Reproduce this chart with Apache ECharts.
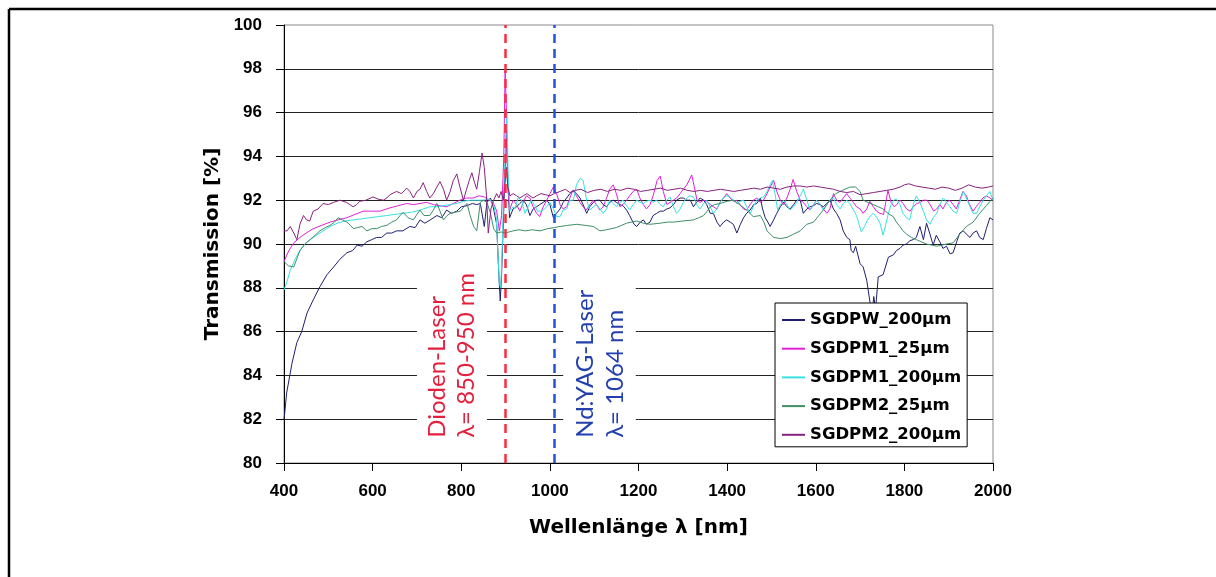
<!DOCTYPE html>
<html>
<head>
<meta charset="utf-8">
<style>
  html, body { margin: 0; padding: 0; background: #fff; }
  #chart { width: 1216px; height: 577px; }
</style>
<script src="https://cdn.jsdelivr.net/npm/echarts@6/dist/echarts.min.js"></script>
</head>
<body>
<div id="chart"></div>
<script>
// Transmission spectra of the glass samples, [wavelength nm, transmission %]
const seriesNames = ['SGDPW_200µm', 'SGDPM1_25µm', 'SGDPM1_200µm', 'SGDPM2_25µm', 'SGDPM2_200µm'];
const seriesColors = ['#1f1f70', '#e020d8', '#38e2e2', '#3f8f68', '#86237f'];

const sgdpw200 = [[400,81.95],[406,83.2],[418,84.55],[429,85.5],[440,86.0],[452,86.85],[466,87.45],[481,88.05],[497,88.6],[512,88.95],[526,89.3],[542,89.6],[555,89.7],[565,89.95],[576,89.9],[587,90.1],[598,90.2],[609,90.3],[620,90.3],[632,90.5],[643,90.5],[654,90.6],[668,90.6],[684,90.8],[696,90.75],[707,91.1],[718,90.95],[730,91.1],[745,91.3],[756,91.2],[767,91.55],[778,91.4],[790,91.5],[800,91.7],[813,91.75],[825,91.85],[835,91.8],[843,91.85],[852,90.8],[858,91.9],[866,92.1],[872,91.7],[880,90.9],[885,88.5],[888,87.4],[891,88.6],[895,91.0],[899,93.5],[902,95.2],[905,93.0],[909,91.2],[917,91.6],[925,91.7],[932,91.85],[940,92.0],[947,91.8],[955,91.3],[962,91.6],[970,91.7],[977,91.8],[985,91.9],[993,92.0],[1000,91.8],[1008,91.2],[1015,91.4],[1023,91.6],[1030,91.9],[1038,92.1],[1045,92.3],[1053,92.45],[1060,92.3],[1068,92.1],[1075,91.8],[1083,91.4],[1090,91.7],[1098,91.9],[1105,92.0],[1113,92.0],[1120,91.8],[1128,91.7],[1135,91.9],[1143,92.0],[1150,91.9],[1158,91.8],[1165,91.75],[1173,91.55],[1180,91.3],[1185,91.1],[1190,90.9],[1196,90.8],[1204,91.0],[1211,91.1],[1218,90.9],[1226,91.0],[1233,91.3],[1241,91.4],[1249,91.5],[1256,91.5],[1264,91.6],[1271,91.65],[1279,91.8],[1286,92.0],[1294,92.1],[1301,92.1],[1309,92.0],[1317,92.0],[1324,91.7],[1331,91.9],[1339,92.1],[1347,92.0],[1354,91.8],[1362,91.4],[1369,91.4],[1377,91.0],[1384,90.8],[1392,91.0],[1399,91.1],[1407,91.0],[1414,90.9],[1422,90.5],[1430,90.9],[1437,91.2],[1444,91.4],[1452,91.55],[1460,91.8],[1467,91.85],[1475,92.1],[1480,91.6],[1486,91.2],[1492,91.0],[1497,90.8],[1505,91.1],[1512,91.4],[1520,91.7],[1527,91.9],[1535,91.7],[1542,91.6],[1550,91.8],[1557,92.0],[1565,92.0],[1572,91.4],[1580,91.6],[1587,91.7],[1595,91.75],[1602,91.85],[1610,91.8],[1617,91.7],[1625,91.85],[1632,92.0],[1640,91.6],[1647,91.4],[1655,91.1],[1662,90.6],[1670,90.3],[1677,90.2],[1680,89.7],[1685,89.6],[1690,89.9],[1695,89.5],[1700,89.1],[1707,88.95],[1715,88.35],[1722,87.4],[1727,86.8],[1731,87.6],[1735,87.0],[1741,88.5],[1752,88.6],[1764,89.4],[1775,89.5],[1782,89.7],[1790,89.8],[1797,89.95],[1805,90.0],[1812,90.15],[1820,90.2],[1827,90.3],[1835,90.8],[1843,90.2],[1850,90.95],[1857,90.5],[1865,89.95],[1872,90.4],[1880,90.1],[1887,89.8],[1895,89.9],[1903,89.55],[1910,89.6],[1918,90.1],[1925,90.5],[1933,90.6],[1940,90.45],[1948,90.3],[1955,90.5],[1963,90.6],[1970,90.3],[1978,90.2],[1985,90.7],[1993,91.2],[2000,91.1]];

const sgdpm1_25 = [[400,89.2],[411,89.7],[422,90.05],[436,90.3],[450,90.5],[466,90.7],[485,90.85],[504,91.0],[522,91.1],[542,91.2],[560,91.35],[579,91.5],[598,91.5],[617,91.5],[639,91.65],[658,91.75],[677,91.85],[692,91.8],[707,91.85],[722,91.9],[737,91.8],[752,91.75],[767,91.7],[782,91.85],[797,92.0],[812,92.1],[827,92.1],[840,92.2],[852,92.15],[862,92.0],[872,91.9],[880,91.5],[886,90.6],[891,91.3],[896,94.0],[899,97.9],[902,96.0],[905,92.5],[910,91.6],[917,92.0],[925,91.8],[932,91.5],[940,91.9],[947,92.2],[955,92.1],[962,91.7],[970,91.4],[977,91.25],[985,91.7],[993,92.0],[1000,92.3],[1008,92.6],[1015,92.3],[1023,91.8],[1030,91.6],[1038,91.7],[1045,92.1],[1052,92.45],[1060,92.2],[1068,91.9],[1075,91.7],[1082,91.55],[1090,91.8],[1098,92.0],[1105,91.8],[1113,91.55],[1120,91.7],[1128,92.1],[1135,92.5],[1143,92.7],[1150,92.3],[1158,91.7],[1165,91.8],[1173,92.0],[1180,92.2],[1188,92.4],[1196,92.5],[1203,92.1],[1211,91.8],[1218,91.6],[1226,91.8],[1233,92.2],[1242,92.9],[1249,93.1],[1256,92.4],[1264,91.8],[1271,91.9],[1279,92.0],[1286,92.1],[1294,92.3],[1301,92.5],[1309,92.7],[1314,92.9],[1320,93.15],[1326,92.6],[1332,92.0],[1339,91.9],[1347,92.0],[1354,91.95],[1362,91.8],[1369,91.7],[1377,91.6],[1384,91.9],[1392,92.1],[1399,92.3],[1407,92.1],[1414,91.95],[1422,92.0],[1429,91.8],[1437,91.6],[1444,91.55],[1452,91.8],[1459,92.0],[1467,92.1],[1475,91.9],[1482,92.0],[1490,92.3],[1497,92.6],[1505,92.9],[1512,92.4],[1520,92.0],[1527,91.8],[1535,92.1],[1542,92.5],[1549,92.95],[1557,92.4],[1565,92.0],[1572,91.9],[1580,91.7],[1587,91.55],[1595,91.8],[1602,92.0],[1610,91.8],[1617,91.6],[1625,91.4],[1632,91.6],[1640,92.3],[1647,92.0],[1655,91.9],[1662,92.1],[1670,92.3],[1677,92.1],[1685,91.9],[1692,91.7],[1700,91.6],[1707,91.4],[1715,91.6],[1722,91.95],[1730,91.7],[1737,91.5],[1745,91.4],[1753,91.35],[1758,91.9],[1763,92.45],[1770,91.9],[1777,91.7],[1783,91.8],[1790,92.0],[1797,91.85],[1805,91.6],[1813,91.5],[1820,91.7],[1828,91.85],[1836,91.9],[1843,92.0],[1851,92.0],[1858,91.8],[1866,91.5],[1873,91.6],[1880,91.8],[1887,91.6],[1895,91.9],[1902,92.0],[1910,91.8],[1917,91.6],[1925,92.0],[1932,92.4],[1940,92.2],[1947,91.8],[1955,91.5],[1962,91.7],[1970,91.9],[1977,92.1],[1985,92.2],[1993,92.1],[2000,92.0]];

const sgdpm1_200 = [[400,87.9],[407,88.3],[414,88.8],[425,89.3],[436,89.7],[447,90.0],[459,90.2],[473,90.4],[488,90.6],[504,90.8],[520,90.95],[538,91.05],[557,91.1],[575,91.15],[594,91.2],[613,91.25],[632,91.3],[650,91.35],[669,91.4],[688,91.45],[707,91.55],[729,91.7],[745,91.7],[760,91.75],[775,91.8],[790,91.85],[805,91.95],[820,92.0],[835,92.0],[850,92.0],[862,92.05],[872,91.9],[879,91.2],[883,89.5],[886,88.2],[889,88.0],[892,89.5],[896,92.5],[900,94.5],[903,96.0],[906,93.0],[910,91.5],[917,91.7],[921,91.6],[928,92.1],[936,92.0],[944,91.4],[951,91.7],[958,92.0],[965,91.8],[972,91.5],[979,91.5],[985,91.55],[993,91.7],[1000,91.9],[1008,91.6],[1015,91.25],[1023,91.25],[1030,91.55],[1038,91.6],[1045,92.0],[1053,92.0],[1060,92.7],[1068,93.0],[1075,92.9],[1083,92.0],[1090,91.55],[1098,91.7],[1105,91.8],[1113,91.6],[1120,91.4],[1128,91.6],[1135,92.0],[1143,91.85],[1150,91.7],[1158,91.9],[1165,92.0],[1173,91.75],[1180,91.55],[1188,91.8],[1196,92.0],[1203,91.9],[1211,91.85],[1218,91.95],[1226,92.0],[1233,91.9],[1241,92.0],[1249,91.8],[1256,91.7],[1264,92.0],[1271,92.15],[1279,91.7],[1286,91.4],[1294,91.6],[1301,91.9],[1309,92.1],[1316,92.2],[1324,92.15],[1331,91.8],[1339,91.6],[1347,91.85],[1354,92.0],[1362,91.7],[1369,91.4],[1377,91.6],[1384,91.9],[1391,92.1],[1399,92.2],[1407,92.15],[1414,92.0],[1422,91.85],[1429,91.95],[1437,92.0],[1444,91.7],[1452,91.4],[1459,91.7],[1467,92.0],[1475,92.1],[1482,92.15],[1490,92.4],[1497,92.7],[1502,92.9],[1508,92.3],[1514,91.55],[1520,91.8],[1527,92.0],[1535,91.8],[1542,91.55],[1550,91.7],[1557,91.9],[1565,92.2],[1572,92.5],[1580,92.0],[1587,91.55],[1595,91.8],[1602,92.0],[1610,91.8],[1617,91.55],[1625,91.8],[1632,92.0],[1640,92.1],[1647,91.8],[1655,91.6],[1662,91.85],[1670,92.0],[1677,91.85],[1685,91.55],[1692,91.3],[1697,90.95],[1703,90.55],[1710,90.8],[1717,91.1],[1724,91.3],[1730,91.4],[1738,91.2],[1745,90.95],[1752,90.4],[1758,90.9],[1764,91.4],[1770,91.8],[1776,92.0],[1782,92.05],[1790,91.8],[1797,91.4],[1805,91.2],[1812,91.1],[1820,91.8],[1827,92.2],[1835,91.9],[1843,91.5],[1850,91.1],[1858,90.9],[1865,91.2],[1873,91.4],[1880,91.8],[1888,92.1],[1895,91.9],[1903,91.7],[1910,91.5],[1918,91.4],[1925,91.9],[1933,92.4],[1940,92.1],[1948,91.7],[1955,91.4],[1963,91.4],[1970,91.7],[1978,92.0],[1985,92.2],[1993,92.4],[2000,92.0]];

const sgdpm2_25 = [[400,89.2],[410,89.0],[422,88.95],[436,89.7],[447,90.0],[459,90.2],[470,90.4],[481,90.6],[493,90.75],[504,90.85],[514,91.0],[522,91.2],[532,91.1],[542,91.0],[550,90.85],[557,90.7],[566,90.75],[576,90.8],[587,90.6],[598,90.7],[609,90.7],[620,90.8],[632,90.85],[643,91.0],[654,91.1],[662,91.3],[669,91.45],[680,91.2],[692,91.1],[700,91.35],[707,91.55],[716,91.3],[729,91.3],[737,91.55],[745,91.85],[752,91.5],[760,91.1],[768,91.3],[775,91.4],[786,91.45],[798,91.5],[806,91.7],[813,91.85],[820,91.3],[828,90.8],[835,90.6],[843,91.9],[850,92.0],[858,91.9],[866,91.4],[873,90.7],[880,90.5],[890,90.55],[899,90.5],[908,90.55],[917,90.6],[930,90.65],[945,90.6],[960,90.65],[978,90.6],[995,90.7],[1010,90.75],[1023,90.8],[1040,90.85],[1061,90.9],[1080,90.85],[1098,90.8],[1113,90.6],[1128,90.65],[1150,90.75],[1173,90.95],[1196,91.05],[1211,90.95],[1226,90.9],[1249,90.95],[1265,91.0],[1279,91.0],[1300,91.05],[1324,91.1],[1336,91.2],[1347,91.3],[1355,91.5],[1362,91.7],[1372,91.8],[1384,91.85],[1400,91.95],[1414,92.0],[1428,91.8],[1444,91.55],[1459,91.25],[1475,91.3],[1483,91.0],[1490,90.6],[1505,90.3],[1520,90.25],[1535,90.3],[1550,90.45],[1565,90.6],[1580,90.9],[1595,91.0],[1607,91.3],[1617,91.55],[1625,91.8],[1632,92.0],[1645,92.3],[1660,92.45],[1677,92.6],[1690,92.6],[1700,92.4],[1707,92.0],[1718,91.9],[1730,91.8],[1741,91.7],[1752,91.6],[1763,91.4],[1775,91.25],[1782,91.0],[1790,90.8],[1797,90.6],[1805,90.45],[1816,90.3],[1827,90.2],[1838,90.1],[1850,90.0],[1862,89.95],[1873,89.9],[1885,89.95],[1895,90.0],[1910,90.05],[1925,90.45],[1940,90.8],[1955,91.0],[1970,91.4],[1985,91.75],[2000,92.1]];

const sgdpm2_200 = [[400,90.6],[407,90.6],[414,90.8],[422,90.5],[429,90.2],[436,90.9],[444,91.3],[451,91.1],[458,91.05],[466,91.5],[477,91.6],[488,91.85],[500,91.8],[512,91.9],[526,92.0],[541,91.9],[556,91.7],[564,91.8],[571,91.95],[585,92.0],[601,92.15],[612,92.05],[624,92.0],[632,92.1],[639,92.25],[654,92.4],[665,92.3],[677,92.55],[684,92.4],[692,92.1],[700,92.4],[707,92.5],[714,92.8],[722,92.4],[729,92.1],[737,92.3],[745,92.6],[752,92.85],[760,92.5],[767,92.0],[775,92.4],[782,92.9],[790,93.2],[797,92.6],[805,92.0],[812,92.5],[818,92.9],[824,93.25],[830,92.8],[835,92.5],[841,93.3],[847,94.15],[852,93.5],[857,92.2],[861,90.5],[867,91.6],[873,92.0],[880,92.3],[885,92.1],[890,92.4],[895,92.0],[899,92.8],[902,93.5],[905,92.6],[910,92.2],[917,92.3],[925,92.2],[932,92.1],[940,92.2],[948,92.3],[955,92.2],[962,92.1],[970,92.2],[980,92.3],[990,92.25],[1000,92.2],[1010,92.3],[1023,92.4],[1035,92.5],[1045,92.35],[1058,92.45],[1070,92.5],[1085,92.35],[1100,92.45],[1115,92.5],[1130,92.4],[1145,92.5],[1160,92.45],[1175,92.55],[1190,92.5],[1205,92.4],[1220,92.45],[1235,92.5],[1250,92.55],[1265,92.45],[1280,92.5],[1295,92.55],[1310,92.45],[1325,92.4],[1340,92.45],[1355,92.4],[1370,92.45],[1385,92.5],[1400,92.45],[1415,92.4],[1430,92.45],[1445,92.5],[1460,92.55],[1475,92.5],[1490,92.6],[1505,92.55],[1520,92.5],[1535,92.6],[1550,92.65],[1565,92.65],[1580,92.6],[1595,92.65],[1610,92.6],[1625,92.55],[1640,92.5],[1655,92.4],[1670,92.35],[1685,92.4],[1700,92.25],[1715,92.3],[1730,92.35],[1745,92.4],[1760,92.45],[1775,92.5],[1790,92.6],[1800,92.7],[1810,92.75],[1825,92.65],[1840,92.6],[1855,92.55],[1870,92.5],[1885,92.6],[1900,92.55],[1915,92.45],[1930,92.55],[1945,92.7],[1960,92.6],[1975,92.55],[1990,92.6],[2000,92.65]];

const seriesData = [sgdpw200, sgdpm1_25, sgdpm1_200, sgdpm2_25, sgdpm2_200];

// Laser wavelengths marked as dashed verticals
const laserLines = [900, 1010];
const laserColors = ['#ff2a40', '#2352dc'];

// Annotation text, two lines each, and the cleared region behind it
const diodeText = ['Dioden-Laser', 'λ= 850-950 nm'];
const yagText = ['Nd:YAG-Laser', 'λ= 1064 nm'];
const diodeBox = [[700, 80.3], [858, 89.1]];
const yagBox = [[1030, 80.3], [1194, 88.6]];
const diodeTextPos = [[745, 81.15], [811, 81.15]];
const yagTextPos = [[1079, 81.15], [1147, 81.15]];

const chart = echarts.init(document.getElementById('chart'), null, { renderer: 'canvas' });

const tickFont = { fontFamily: 'Liberation Sans, Arial, sans-serif', fontWeight: 'bold', fontSize: 17, color: '#000' };
const nameFont = { fontFamily: 'DejaVu Sans', fontWeight: 'bold', fontSize: 20, color: '#000' };

const series = seriesNames.map((name, i) => {
  const s = {
    name: name,
    type: 'line',
    data: seriesData[i],
    showSymbol: false,
    symbol: 'none',
    lineStyle: { width: 1, color: seriesColors[i] },
    itemStyle: { color: seriesColors[i] },
    animation: false,
    z: 3
  };
  if (i === 0) {
    s.markArea = {
      silent: true,
      itemStyle: { color: '#ffffff', opacity: 1 },
      data: [
        [{ coord: diodeBox[0] }, { coord: diodeBox[1] }],
        [{ coord: yagBox[0] }, { coord: yagBox[1] }]
      ]
    };
    s.markLine = {
      silent: true,
      symbol: 'none',
      label: { show: false },
      animation: false,
      data: laserLines.map((x, k) => ({
        xAxis: x,
        lineStyle: { color: laserColors[k], type: [9, 6], width: 2.5 }
      }))
    };
  }
  return s;
});

chart.setOption({
  animation: false,
  backgroundColor: '#ffffff',
  grid: {
    left: 284, right: 223, top: 25, bottom: 114,
    show: true, borderColor: '#8a8a8a', borderWidth: 1, backgroundColor: 'transparent'
  },
  xAxis: {
    type: 'value', min: 400, max: 2000, interval: 200,
    name: 'Wellenlänge λ [nm]', nameLocation: 'middle', nameGap: 55,
    nameTextStyle: nameFont,
    axisLine: { show: true, onZero: false, lineStyle: { color: '#000', width: 1 } },
    axisTick: { show: true, inside: false, length: 8, lineStyle: { color: '#000' } },
    axisLabel: Object.assign({ margin: 20, formatter: v => String(v) }, tickFont),
    splitLine: { show: false }
  },
  yAxis: {
    type: 'value', min: 80, max: 100, interval: 2,
    name: 'Transmission [%]', nameLocation: 'middle', nameGap: 60, nameRotate: 90,
    nameTextStyle: nameFont,
    axisLine: { show: true, onZero: false, lineStyle: { color: '#000', width: 1 } },
    axisTick: { show: true, inside: false, length: 8, lineStyle: { color: '#000' } },
    axisLabel: Object.assign({ margin: 22, formatter: v => String(v) }, tickFont),
    splitLine: { show: true, showMaxLine: false, showMinLine: false, lineStyle: { color: '#222', width: 1 } }
  },
  legend: {
    orient: 'vertical',
    left: 775, top: 303,
    padding: [7, 6, 2, 7],
    itemGap: 8.7,
    itemWidth: 23, itemHeight: 2,
    icon: 'rect',
    backgroundColor: '#ffffff',
    borderColor: '#000', borderWidth: 1, borderRadius: 0,
    textStyle: { fontFamily: 'DejaVu Sans', fontWeight: 'bold', fontSize: 16.5, color: '#000', lineHeight: 20 },
    data: seriesNames
  },
  series: series
});

// Rotated annotation texts, anchored at data positions
function annotation(texts, positions, color) {
  return texts.map((t, k) => {
    const p = chart.convertToPixel({ xAxisIndex: 0, yAxisIndex: 0 }, positions[k]);
    return {
      type: 'text',
      x: p[0], y: p[1],
      rotation: Math.PI / 2,
      z: 20,
      style: {
        text: t,
        fill: color,
        font: '24px Lato, "Open Sans", sans-serif',
        align: 'left',
        verticalAlign: 'middle'
      }
    };
  });
}

const frame = [
  { type: 'line', shape: { x1: 9, y1: 9, x2: 1216, y2: 9 }, style: { stroke: '#000', lineWidth: 2.5 }, z: 30 },
  { type: 'line', shape: { x1: 9, y1: 9, x2: 9, y2: 577 }, style: { stroke: '#000', lineWidth: 2.5 }, z: 30 }
];

chart.setOption({
  graphic: frame
    .concat(annotation(diodeText, diodeTextPos, '#e3203e'))
    .concat(annotation(yagText, yagTextPos, '#2440ad'))
});
</script>
</body>
</html>
